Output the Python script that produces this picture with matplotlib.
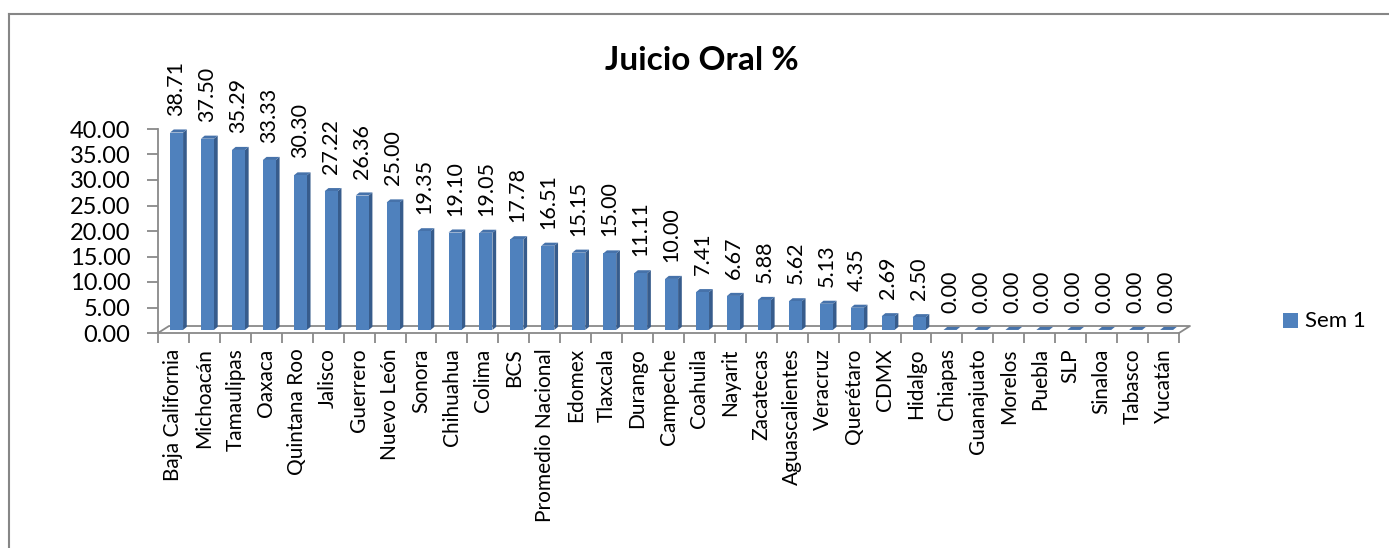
import matplotlib
matplotlib.use("Agg")
import matplotlib.pyplot as plt
from matplotlib.patches import Polygon, Rectangle
from matplotlib.lines import Line2D
import numpy as np

plt.rcParams['font.family'] = ['Lato', 'DejaVu Sans']

estados = ['Baja California', 'Michoacán', 'Tamaulipas', 'Oaxaca', 'Quintana Roo',
           'Jalisco', 'Guerrero', 'Nuevo León', 'Sonora', 'Chihuahua', 'Colima',
           'BCS', 'Promedio Nacional', 'Edomex', 'Tlaxcala', 'Durango', 'Campeche',
           'Coahuila', 'Nayarit', 'Zacatecas', 'Aguascalientes', 'Veracruz',
           'Querétaro', 'CDMX', 'Hidalgo', 'Chiapas', 'Guanajuato', 'Morelos',
           'Puebla', 'SLP', 'Sinaloa', 'Tabasco', 'Yucatán']
sem1 = [38.71, 37.50, 35.29, 33.33, 30.30, 27.22, 26.36, 25.00, 19.35, 19.10,
        19.05, 17.78, 16.51, 15.15, 15.00, 11.11, 10.00, 7.41, 6.67, 5.88,
        5.62, 5.13, 4.35, 2.69, 2.50, 0.00, 0.00, 0.00, 0.00, 0.00, 0.00,
        0.00, 0.00]
yticks = np.arange(0, 45, 5)

W, H = 1389, 548
fig = plt.figure(figsize=(W / 100, H / 100), dpi=100)

# chart frame (only top and left edges visible)
fig.add_artist(Line2D([9 / W, 1], [1 - 14 / H, 1 - 14 / H], color='#868686', lw=1.5))
fig.add_artist(Line2D([9 / W, 9 / W], [0, 1 - 14 / H], color='#868686', lw=1.5))

ax = fig.add_axes([158 / W, (H - 333) / H, 1021 / W, 204 / H])
n = len(estados)
ax.set_xlim(-0.5, n - 0.5)
ax.set_ylim(0, 40)

front = '#4F81BD'
side = '#375C8C'
top = '#4672AA'
gray = '#898989'

# floor (3d depth)
dx, dy = 0.355, 1.37
ax.plot([-0.5, -0.5 + dx, n - 0.5 + dx, n - 0.5], [0, dy, dy, 0],
        color=gray, lw=1.3, clip_on=False, zorder=1)

base = 0.6
w0, w1 = -0.11, 0.31
sx, sy = 0.12, 0.6
for i, v in enumerate(sem1):
    x0, x1 = i + w0, i + w1
    y0, y1 = base, base + v
    ax.add_patch(Polygon([(x1, y0), (x1 + sx, y0 + sy), (x1 + sx, y1 + sy), (x1, y1)],
                         closed=True, fc=side, ec='none', clip_on=False, zorder=2))
    ax.add_patch(Polygon([(x0, y1), (x0 + sx, y1 + sy), (x1 + sx, y1 + sy), (x1, y1)],
                         closed=True, fc=top, ec='none', clip_on=False, zorder=2))
    if v > 0:
        ax.add_patch(Rectangle((x0, y0), x1 - x0, v, fc=front, ec='none',
                               clip_on=False, zorder=2))
    ax.annotate(f'{v:.2f}', (i + 0.1, y1 + sy), xytext=(0, 10), textcoords='offset points',
                rotation=90, ha='center', va='bottom', fontsize=15.5, color='#000000',
                annotation_clip=False)

for s in ['top', 'right']:
    ax.spines[s].set_visible(False)
ax.spines['left'].set_color(gray)
ax.spines['bottom'].set_color(gray)
ax.spines['left'].set_linewidth(1.3)
ax.spines['bottom'].set_linewidth(1.3)

ax.set_yticks(yticks)
ax.set_yticklabels([f'{t:.2f}' for t in yticks])
ax.tick_params(axis='y', length=8, width=1.3, color=gray, labelsize=17, pad=12)

ax.set_xticks(np.arange(n))
ax.set_xticklabels(estados, rotation=90, fontsize=15)
ax.set_xticks(np.arange(n + 1) - 0.5, minor=True)
ax.tick_params(axis='x', which='major', length=0, pad=11)
ax.tick_params(axis='x', which='minor', length=7, width=1.3, color=gray)

fig.text(702 / W, 1 - 60 / H, 'Juicio Oral %', ha='center', va='center',
         fontsize=24, fontweight='bold')

# legend
fig.add_artist(Rectangle((1283 / W, 1 - 328 / H), 15 / W, 15 / H, fc=front, ec='none'))
fig.text(1305 / W, 1 - 321 / H, 'Sem 1', ha='left', va='center', fontsize=16)

fig.savefig('out.png', dpi=100)
